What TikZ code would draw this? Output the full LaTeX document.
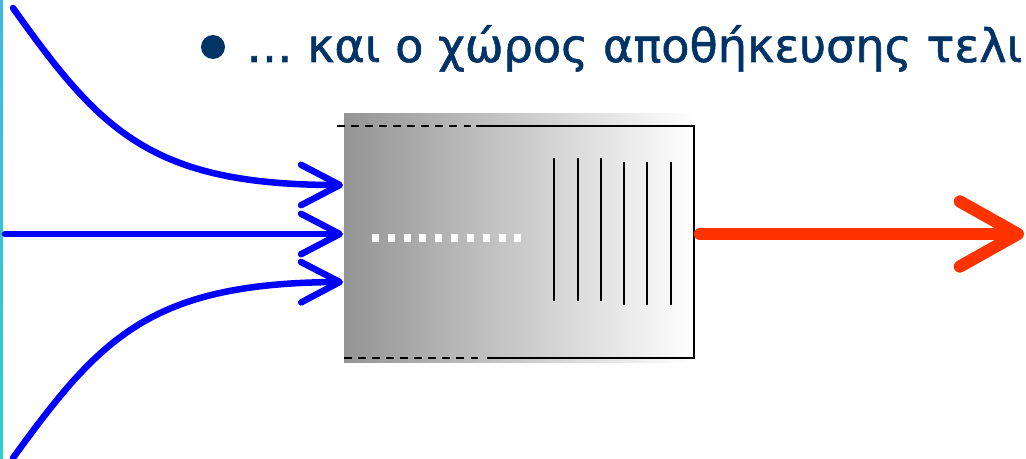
\documentclass[tikz,border=0pt]{standalone}
\usepackage{xcolor}
\usepackage{fontspec}
\newfontfamily\greekfont[FakeBold=1.2]{DejaVu Sans}
\usepackage{tikz}
\usetikzlibrary{positioning, arrows.meta}

\definecolor{navy}{RGB}{0,51,102}
\definecolor{flowblue}{RGB}{0,0,255}
\definecolor{outred}{RGB}{255,51,0}

\begin{document}
\begin{tikzpicture}[x=0.02cm, y=-0.02cm,
    flow/.style={flowblue, line width=3.7pt, line cap=round, -{Straight Barb[length=22pt, width=23pt, round]}},
    outflow/.style={outred, line width=7pt, line cap=round, -{Straight Barb[length=33pt, width=37pt, round]}},
    plate/.style={black, line width=0.8pt},
    rim/.style={black, line width=0.9pt, dash pattern=on 4.5pt off 3.5pt}]
        \useasboundingbox (0,0) rectangle (1026,459);
        \shade[top color={rgb,255:red,70;green,180;blue,225}, bottom color={rgb,255:red,50;green,205;blue,205}] (0,0) rectangle (3,459);
        % heading
        \node[circle, fill=navy, inner sep=0pt, minimum size=0.48cm] (dot) at (213,47) {};
        \node[anchor=base west, text=navy, inner sep=0pt, font=\greekfont\fontsize{26.3}{30}\selectfont] (title) at (246,62) {… και ο χώρος αποθήκευσης τελι};
        % storage
        \node[left color={rgb,255:red,148;green,148;blue,148}, right color=white, minimum width=7cm, minimum height=5cm, inner sep=0pt] (store) at (519,238) {};
        \draw[rim] (337,126) -- (476,126);
        \draw[plate] (476,126) -- (694,126) -- (694,358) -- (487,358);
        \draw[rim] (344,358) -- (484,358);
        \draw[white, line width=4pt, dash pattern=on 4pt off 5pt] (372,238) -- (521,238);
        \foreach \x/\t/\b in {554/158/301, 578/158/301, 601/158/301, 624/162/305, 647/162/305, 671/162/305}
            \draw[plate] (\x,\t) -- (\x,\b);
        % inputs
        \coordinate (in1) at (13,8);
        \coordinate (in2) at (5,234);
        \coordinate (in3) at (13,458);
        \coordinate (s1) at (343,185);
        \coordinate (s2) at (343,234);
        \coordinate (s3) at (343,282);
        \draw[flow] (in1) .. controls (100,130) and (150,185) .. (s1);
        \draw[flow] (in2) -- (s2);
        \draw[flow] (in3) .. controls (100,338) and (150,283) .. (s3);
        % output
        \coordinate (o1) at (700,234);
        \coordinate (o2) at (1024,234);
        \draw[outflow] (o1) -- (o2);
    \end{tikzpicture}
\end{document}
